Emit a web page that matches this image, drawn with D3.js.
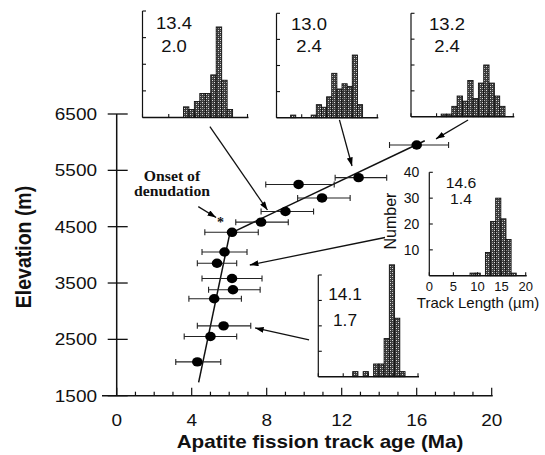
<!DOCTYPE html>
<html><head><meta charset="utf-8">
<script src="https://cdn.jsdelivr.net/npm/d3@7/dist/d3.min.js"></script>
<style>body{margin:0;background:#fff}svg{display:block}</style>
</head><body>
<svg id="c" width="545" height="455"></svg>
<script>
// ---------- data ----------
const ages       = [4.3, 5.0, 5.7, 5.2, 6.2, 6.15, 5.35, 5.75, 6.15, 7.7, 9.0, 10.95, 9.7, 12.9, 16.0];
const elevations = [2100, 2550, 2740, 3220, 3380, 3580, 3850, 4050, 4400, 4580, 4770, 5010, 5250, 5370, 5950];
const ageLow     = [3.15, 3.6, 4.3, 3.85, 4.9, 4.55, 4.3, 4.55, 4.7, 6.35, 7.7, 9.65, 7.95, 11.65, 14.55];
const ageHigh    = [5.55, 6.4, 7.15, 6.65, 7.65, 7.75, 6.4, 6.95, 7.55, 9.15, 10.5, 12.45, 11.6, 14.4, 17.7];
const fitLow  = [[4.37, 1737], [6.03, 4378]];
const fitHigh = [[6.03, 4378], [16.43, 6025]];
const xTicks = [0, 4, 8, 12, 16, 20];
const yTicks = [1500, 2500, 3500, 4500, 5500, 6500];
const onset = [5.53, 4636];
const onsetLabel = ["Onset of", "denudation"];
// arrows: [fromAge, fromElev, toAge, toElev]
const arrows = [[4.97, 6275, 8.04, 4796], [11.88, 6395, 12.55, 5577], [18.74, 6394, 17.03, 6059],
                [14.31, 4308, 7.1, 3820], [10.26, 2489, 7.38, 2702], [4.35, 4855, 5.3, 4663]];
// track-length histograms (counts per bin; first bin start and bin width in µm)
const h1Counts = [4, 3, 6, 9, 9, 16, 34, 14, 3];            const h1Start = 7.8;  const h1Width = 1.04;
const h2Counts = [1, 0, 0, 0, 1, 5, 4, 8, 17, 11, 13, 12, 24, 5]; const h2Start = 2.8; const h2Width = 1.02;
const h3Counts = [1, 1, 4, 8, 6, 14, 7, 13, 20, 13, 8, 4];  const h3Start = 5.9;  const h3Width = 1.04;
const h4Counts = [1, 1, 0, 9, 21, 30, 22, 14, 1];           const h4Start = 8.45; const h4Width = 1.065;
const h5Counts = [2, 0, 2, 0, 5, 5, 15, 44, 23, 2];         const h5Start = 6.9;  const h5Width = 1.05;
const means = ["13.4", "13.0", "13.2", "14.6", "14.1"];
const sds   = ["2.0", "2.4", "2.4", "1.4", "1.7"];
const lenTicks = [0, 5, 10, 15, 20];
const numTicks = [10, 20, 30, 40];

// ---------- drawing ----------
const svg = d3.select("#c");
const SANS = "'Liberation Sans', Arial, Helvetica, sans-serif";
const SERIF = "'Liberation Serif', 'Times New Roman', serif";
const defs = svg.append("defs");
const pat = defs.append("pattern").attr("id", "stip").attr("width", 4).attr("height", 4)
  .attr("patternUnits", "userSpaceOnUse");
pat.append("rect").attr("width", 4).attr("height", 4).attr("fill", "#3a3a3a");
pat.append("rect").attr("x", 0).attr("y", 0).attr("width", 1).attr("height", 1).attr("fill", "#e0e0e0");
pat.append("rect").attr("x", 2).attr("y", 2).attr("width", 1).attr("height", 1).attr("fill", "#e0e0e0");
pat.append("rect").attr("x", 2).attr("y", 0).attr("width", 1).attr("height", 1).attr("fill", "#8a8a8a");
pat.append("rect").attr("x", 0).attr("y", 2).attr("width", 1).attr("height", 1).attr("fill", "#8a8a8a");
defs.append("marker").attr("id", "ah").attr("viewBox", "0 0 10 7").attr("refX", 10).attr("refY", 3.5)
  .attr("markerWidth", 9).attr("markerHeight", 6).attr("markerUnits", "userSpaceOnUse").attr("orient", "auto")
  .append("path").attr("d", "M0,0 L10,3.5 L0,7 z").attr("fill", "#000");

function txt(g, x, y, s, o) {
  o = o || {};
  let tr = `translate(${x},${y}) scale(${o.sx || 1},1)` + (o.rot ? ` rotate(${o.rot})` : "");
  return g.append("text").attr("transform", tr).text(s)
    .attr("font-family", o.fam || SANS).attr("font-size", o.size || 16)
    .attr("font-weight", o.w || "normal").attr("text-anchor", o.anchor || "middle").attr("fill", "#111");
}

const x = d3.scaleLinear([0, 20], [116.7, 491.7]);
const y = d3.scaleLinear([1500, 6500], [395.7, 114]);
const main = svg.append("g");

// axes
main.append("line").attr("x1", 102).attr("x2", x(20) + 1).attr("y1", y(1500)).attr("y2", y(1500))
  .attr("stroke", "#111").attr("stroke-width", 1.5);
main.append("line").attr("x1", x(0)).attr("x2", x(0)).attr("y1", y(1500)).attr("y2", y(6500))
  .attr("stroke", "#111").attr("stroke-width", 1.5);
d3.range(0, 21).forEach(v => {
  const len = v % 4 === 0 ? 8 : 4;
  main.append("line").attr("x1", x(v)).attr("x2", x(v)).attr("y1", y(1500)).attr("y2", y(1500) - len)
    .attr("stroke", "#111").attr("stroke-width", 1.2);
});
xTicks.forEach(v => txt(main, x(v), 426, String(v), {size: 16.5, sx: 1.15}));
yTicks.forEach(v => {
  main.append("line").attr("x1", x(0) - 9).attr("x2", x(0) + 11).attr("y1", y(v)).attr("y2", y(v))
    .attr("stroke", "#111").attr("stroke-width", 1.3);
  txt(main, 97, y(v) + 6, String(v), {size: 16.5, sx: 1.15, anchor: "end"});
});
txt(main, 320, 448, "Apatite fission track age (Ma)", {size: 17.5, sx: 1.18, w: "bold"});
txt(main, 31, 247, "Elevation (m)", {size: 19.5, sx: 1.15, w: "bold", rot: -90});

// fit lines
const line = d3.line().x(d => x(d[0])).y(d => y(d[1]));
[fitLow, fitHigh].forEach(seg => main.append("path").attr("d", line(seg)).attr("fill", "none")
  .attr("stroke", "#111").attr("stroke-width", 1.5));

// error bars + points
ages.forEach((a, i) => {
  const yy = y(elevations[i]);
  main.append("line").attr("x1", x(ageLow[i])).attr("x2", x(ageHigh[i])).attr("y1", yy).attr("y2", yy)
    .attr("stroke", "#222").attr("stroke-width", 1.1);
  [ageLow[i], ageHigh[i]].forEach(v => main.append("line").attr("x1", x(v)).attr("x2", x(v))
    .attr("y1", yy - 3).attr("y2", yy + 3).attr("stroke", "#222").attr("stroke-width", 1.1));
  main.append("ellipse").attr("cx", x(a)).attr("cy", yy).attr("rx", 5.3).attr("ry", 4.7).attr("fill", "#000");
});

// arrows
arrows.forEach(r => main.append("line").attr("x1", x(r[0])).attr("y1", y(r[1])).attr("x2", x(r[2])).attr("y2", y(r[3]))
  .attr("stroke", "#111").attr("stroke-width", 1.3).attr("marker-end", "url(#ah)"));

// onset
txt(main, x(onset[0]), y(onset[1]) + 8, "*", {size: 14, fam: SERIF, w: "bold"});
txt(main, 172, 181, onsetLabel[0], {size: 15, fam: SERIF, w: "bold", sx: 1.05});
txt(main, 172, 196, onsetLabel[1], {size: 15, fam: SERIF, w: "bold", sx: 1.05});

// insets
const insets = [
  {c: h1Counts, s: h1Start, bw: h1Width, x0: 142.5, x1: 247.5, yT: 11,    yB: 117.5, tx: 174, t1: 29,  t2: 52,  fs: 16.5, sx: 1.12},
  {c: h2Counts, s: h2Start, bw: h2Width, x0: 276.5, x1: 377.3, yT: 13.3,  yB: 117.7, tx: 309, t1: 30,  t2: 52,  fs: 16.5, sx: 1.12},
  {c: h3Counts, s: h3Start, bw: h3Width, x0: 411,   x1: 513.3, yT: 13.3,  yB: 116.7, tx: 447, t1: 30,  t2: 52,  fs: 16.5, sx: 1.12},
  {c: h4Counts, s: h4Start, bw: h4Width, x0: 429.3, x1: 525.7, yT: 172.3, yB: 275.7, tx: 461, t1: 188, t2: 204, fs: 15,   sx: 1.05, labels: true},
  {c: h5Counts, s: h5Start, bw: h5Width, x0: 318.3, x1: 418,   yT: 275,   yB: 376.7, tx: 345, t1: 300, t2: 326, fs: 16.5, sx: 1.05}
];
insets.forEach((ins, k) => {
  const g = svg.append("g");
  const ix = d3.scaleLinear([0, 20], [ins.x0, ins.x1]);
  const iy = d3.scaleLinear([0, 40], [ins.yB, ins.yT]);
  ins.c.forEach((n, j) => {
    if (!n) return;
    const a = ins.s + j * ins.bw;
    g.append("rect").attr("x", ix(a)).attr("width", ix(a + ins.bw) - ix(a)).attr("y", iy(n))
      .attr("height", iy(0) - iy(n)).attr("fill", "url(#stip)").attr("stroke", "#111").attr("stroke-width", 0.9);
  });
  g.append("line").attr("x1", ix(0)).attr("x2", ix(20) + 1).attr("y1", iy(0)).attr("y2", iy(0))
    .attr("stroke", "#111").attr("stroke-width", 1.4);
  g.append("line").attr("x1", ix(0)).attr("x2", ix(0)).attr("y1", iy(0)).attr("y2", iy(40))
    .attr("stroke", "#111").attr("stroke-width", 1.2);
  numTicks.forEach(v => g.append("line").attr("x1", ix(0)).attr("x2", ix(0) + 3.5).attr("y1", iy(v)).attr("y2", iy(v))
    .attr("stroke", "#111").attr("stroke-width", 1.1));
  lenTicks.forEach(v => g.append("line").attr("x1", ix(v)).attr("x2", ix(v)).attr("y1", iy(0)).attr("y2", iy(0) - 3.5)
    .attr("stroke", "#111").attr("stroke-width", 1.1));
  txt(g, ins.tx, ins.t1, means[k], {size: ins.fs, sx: ins.sx});
  txt(g, ins.tx, ins.t2, sds[k], {size: ins.fs, sx: ins.sx});
  if (ins.labels) {
    numTicks.forEach(v => txt(g, ix(0) - 10, iy(v) + 5, String(v), {size: 14, anchor: "end"}));
    lenTicks.forEach(v => txt(g, ix(v), iy(0) + 15, String(v), {size: 13}));
    txt(g, 478, 308, "Track Length (\u00b5m)", {size: 15});
    txt(g, 396, 221, "Number", {size: 16, rot: -90});
  }
});
</script>
</body></html>
